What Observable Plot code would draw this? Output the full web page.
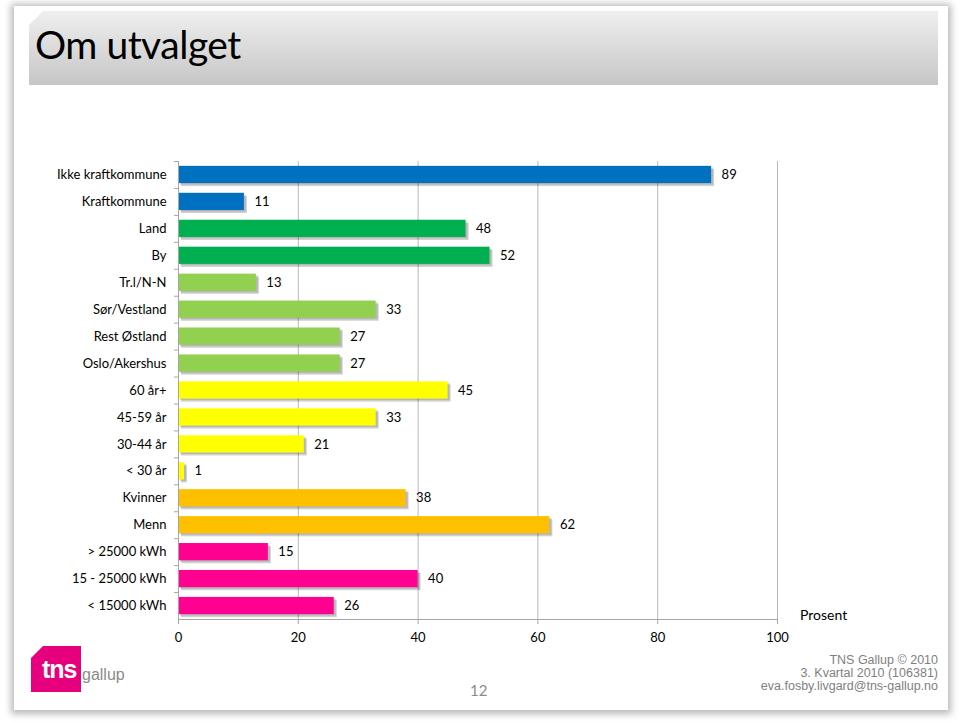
<!DOCTYPE html>
<html>
<head>
<meta charset="utf-8">
<script src="https://cdn.jsdelivr.net/npm/d3@7"></script>
<script src="https://cdn.jsdelivr.net/npm/@observablehq/plot@0.6"></script>
<style>
  html, body { margin: 0; padding: 0; background: #ffffff; }
  body { width: 959px; height: 722px; position: relative; overflow: hidden; font-family: Lato, "Open Sans", sans-serif; }
  #slide { position: absolute; left: 14px; top: 6px; width: 934px; height: 704px; background: #fff;
           box-shadow: 0 1px 7px 3px rgba(0,0,0,0.28); }
  #titlebox { position: absolute; left: 29px; top: 11px; width: 909px; height: 74px;
              background: linear-gradient(#efefef, #c6c6c6); box-shadow: 2px 3px 4px rgba(0,0,0,0.3);
              clip-path: polygon(14px 0, 100% 0, 100% 100%, 0 100%, 0 14px); }
  #title { position: absolute; left: 35px; top: 21px; font-size: 39px; color: #000; font-family: Lato, sans-serif; letter-spacing: -0.5px; }
  #chart { position: absolute; left: 0; top: 148px; }
  #prosent { position: absolute; left: 800px; top: 606px; font-size: 14px; color: #000; }
  #page { position: absolute; left: 470px; top: 681px; font-size: 15px; color: #8c8c8c; }
  #tns { position: absolute; right: 21px; top: 654px; text-align: right; font-family: "Liberation Sans", Arial, sans-serif;
         font-size: 12.5px; line-height: 13px; color: #7f7f7f; }
  #logo { position: absolute; left: 31px; top: 646px; width: 50px; height: 46px; background: #e6007e;
          clip-path: polygon(12px 0, 100% 0, 100% 100%, 0 100%, 0 12px); }
  #logotxt { position: absolute; left: 42px; top: 655px; font-size: 25px; font-weight: bold; color: #fff; font-family: "Liberation Sans", Arial, sans-serif; letter-spacing: -1px; }
  #gallup { position: absolute; left: 82px; top: 666px; font-size: 16px; color: #8a8a8a; font-family: "Liberation Sans", Arial, sans-serif; }
</style>
</head>
<body>
<div id="slide"></div>
<div id="titlebox"></div>
<div id="title">Om utvalget</div>
<div id="chart"></div>
<div id="prosent">Prosent</div>
<div id="page">12</div>
<div id="tns">TNS Gallup © 2010<br>3. Kvartal 2010 (106381)<br>eva.fosby.livgard@tns-gallup.no</div>
<div id="logo"></div>
<div id="logotxt">tns</div>
<div id="gallup">gallup</div>
<script>
const categories = ["Ikke kraftkommune","Kraftkommune","Land","By","Tr.l/N-N","Sør/Vestland","Rest Østland","Oslo/Akershus","60 år+","45-59 år","30-44 år","< 30 år","Kvinner","Menn","> 25000 kWh","15 - 25000 kWh","< 15000 kWh"];
const values = [89,11,48,52,13,33,27,27,45,33,21,1,38,62,15,40,26];
const groups = ["Kommune","Kommune","Bosted","Bosted","Landsdel","Landsdel","Landsdel","Landsdel","Alder","Alder","Alder","Alder","Kjønn","Kjønn","Forbruk","Forbruk","Forbruk"];
const groupNames = ["Kommune","Bosted","Landsdel","Alder","Kjønn","Forbruk"];
const groupColors = ["#0070C0","#00B050","#92D050","#FFFF00","#FFC000","#FF0090"];
const xTicks = [0,20,40,60,80,100];

const data = categories.map((c, i) => ({category: c, value: values[i], group: groups[i]}));

const plotH = 458;
const step = plotH / categories.length;

const chart = Plot.plot({
  width: 959,
  height: 503,
  marginLeft: 178,
  marginRight: 182,
  marginTop: 13,
  marginBottom: 32,
  style: {fontFamily: "Lato, 'Open Sans', sans-serif", fontSize: "13px", color: "#000", background: "transparent"},
  x: {domain: [0, 100], ticks: xTicks},
  y: {domain: categories, paddingInner: 0.36, paddingOuter: 0.18, round: false},
  color: {domain: groupNames, range: groupColors},
  marks: [
    Plot.gridX(xTicks, {stroke: "#b8b8b8", strokeOpacity: 1}),
    Plot.barX(data, {x: "value", y: "category", fill: "#000", fillOpacity: 0.18, dx: 3, dy: 3}),
    Plot.barX(data, {x: "value", y: "category", fill: "#000", fillOpacity: 0.12, dx: 2, dy: 1.5}),
    Plot.barX(data, {x: "value", y: "category", fill: "group"}),
    Plot.text(data, {x: "value", y: "category", text: d => String(d.value), textAnchor: "start", dx: 10, fill: "#000", fontSize: 13}),
    Plot.ruleX([0], {stroke: "#a6a6a6"}),
    Plot.axisX({ticks: xTicks, tickSize: 5, tickPadding: 8, stroke: "#a6a6a6", label: null, fontSize: 13, color: "#000"}),
    Plot.axisY({tickSize: 0, tickPadding: 12, label: null, fontSize: 13}),
    Plot.axisY({tickSize: 4, tickFormat: () => "", label: null, stroke: "#a6a6a6", dy: -step / 2}),
    Plot.frame({anchor: "bottom", stroke: "#a6a6a6"})
  ]
});
document.getElementById("chart").appendChild(chart);
</script>
</body>
</html>
